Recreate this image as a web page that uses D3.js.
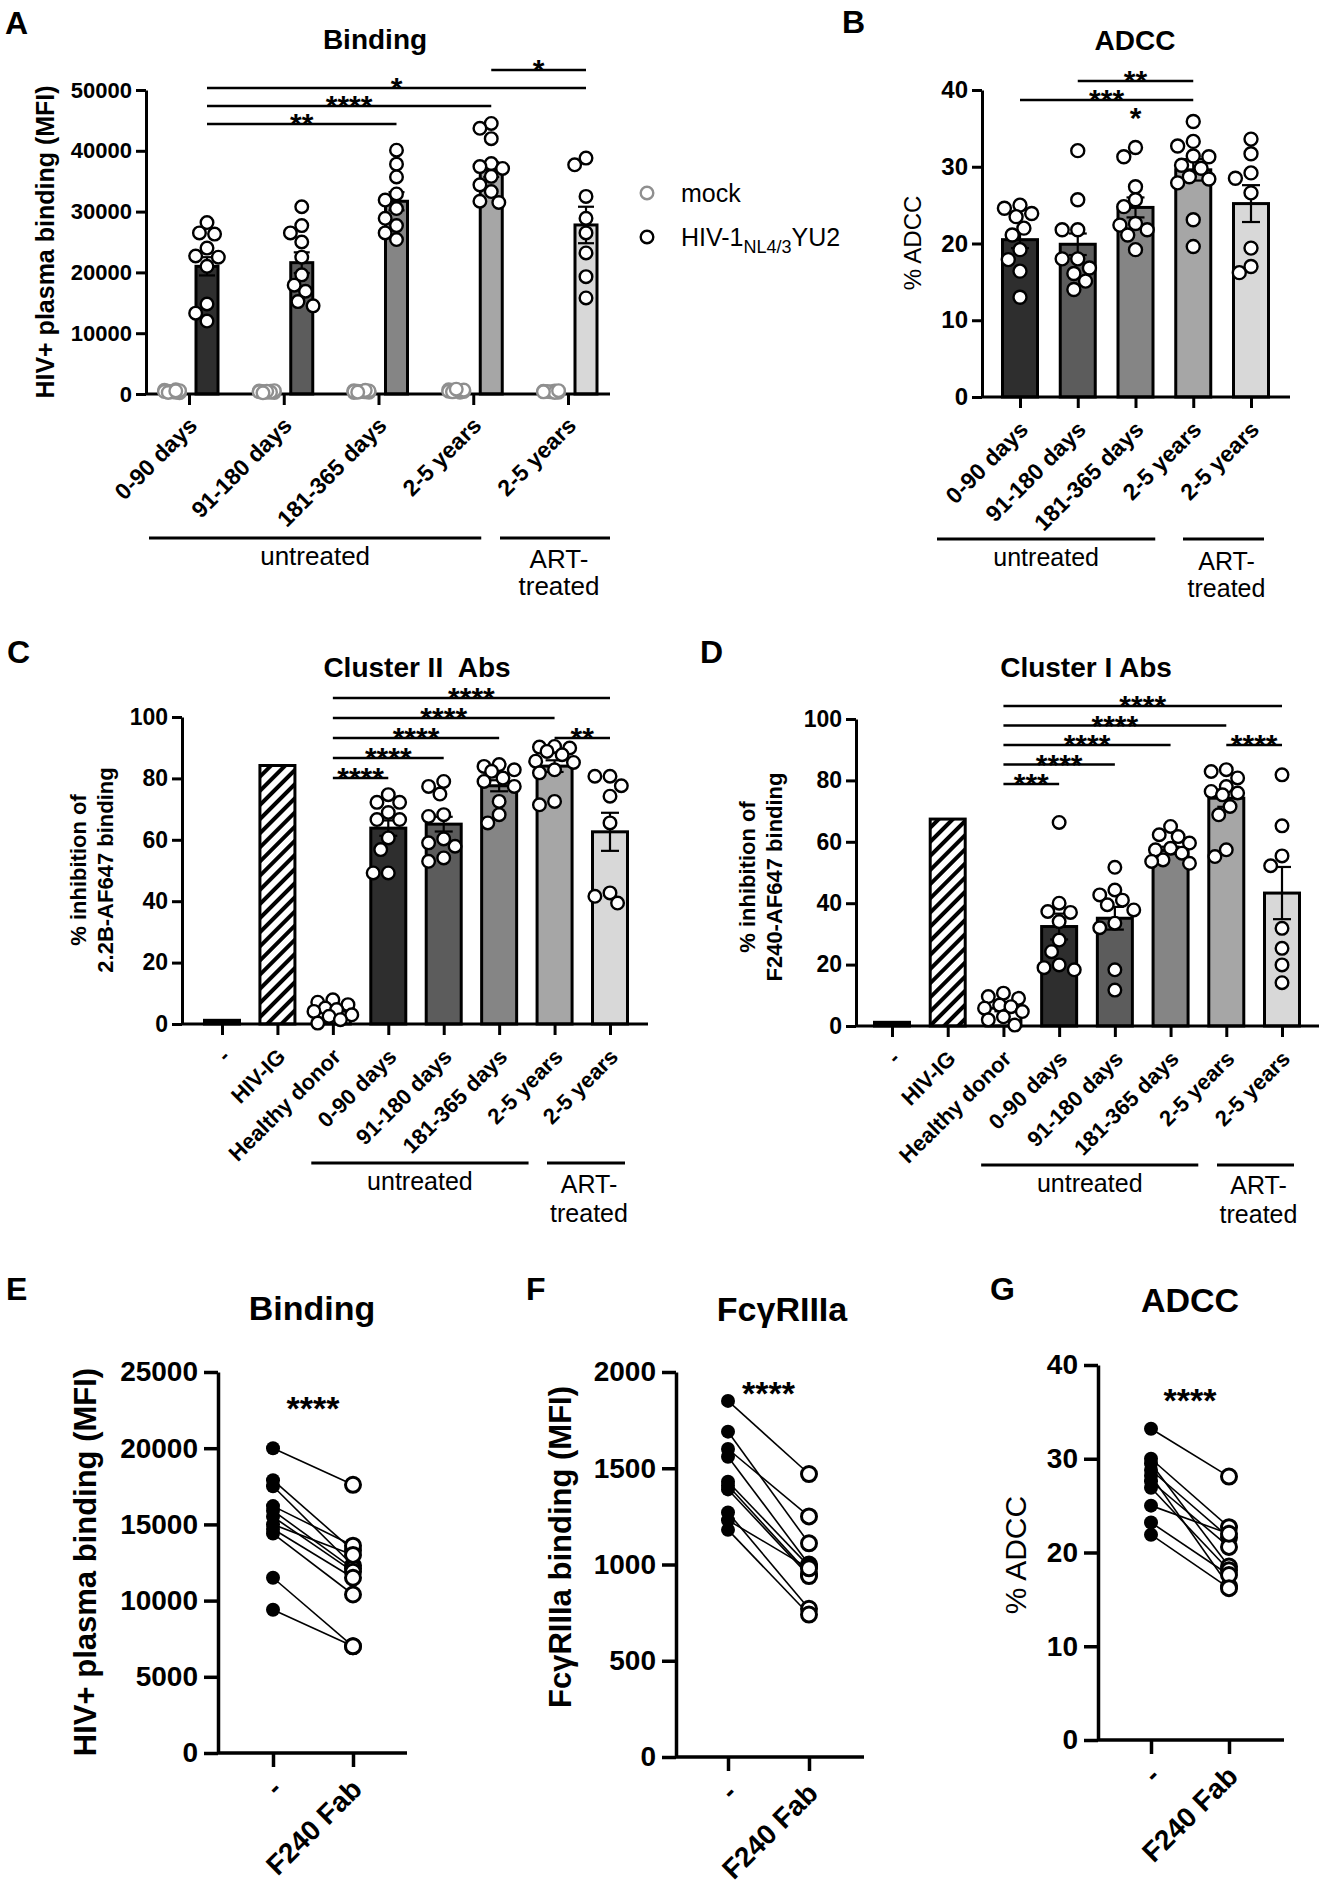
<!DOCTYPE html>
<html><head><meta charset="utf-8">
<script src="https://cdn.jsdelivr.net/npm/d3@7/dist/d3.min.js"></script>
<style>
html,body{margin:0;padding:0;background:#fff}
svg{display:block}
text{font-family:"Liberation Sans",Arial,Helvetica,sans-serif;fill:#000}
</style></head><body>
<svg id="fig" width="1320" height="1888" xmlns="http://www.w3.org/2000/svg"></svg>
<script>
// ---------------- DATA ----------------
const catsAB = ["0-90 days","91-180 days","181-365 days","2-5 years","2-5 years"];
const catsCD = ["-","HIV-IG","Healthy donor","0-90 days","91-180 days","181-365 days","2-5 years","2-5 years"];
const catsPair = ["-","F240 Fab"];
const groupNames = ["untreated","ART-","treated"];
const legendNames = ["mock","HIV-1","NL4/3","YU2"];
const titles = ["Binding","ADCC","Cluster II\u00a0 Abs","Cluster I Abs","Binding","Fc\u03b3RIIIa","ADCC"];
const letters = ["A","B","C","D","E","F","G"];

const ticksA = [0,10000,20000,30000,40000,50000];
const ticksB = [0,10,20,30,40];
const ticksCD = [0,20,40,60,80,100];
const ticksE = [0,5000,10000,15000,20000,25000];
const ticksF = [0,500,1000,1500,2000];
const ticksG = [0,10,20,30,40];

// Panel A
const aMock = [
  [350,600,200,450,700,300,550,400,250,500],
  [300,500,250,450,400,350,550,300,450,200],
  [400,550,300,450,350,500,250,400,600,300],
  [500,700,400,600,300,550,450,650,350,800],
  [350,450,300,500,400,250,550,350]
];
const aHiv = [
  [28200,26500,26300,24000,22700,22500,21000,14800,13300,12000],
  [30800,27700,26500,25000,22500,19600,17900,16900,15200,14500],
  [40100,37800,35700,32900,31900,30500,28900,27700,26500,25400],
  [44500,43700,42000,37900,37400,37100,35800,34400,33300,31700,31500],
  [38800,37700,32500,28900,26500,23200,19300,15800]
];
const aMean = [21000,21600,31700,36900,27800];
const aSem = [1500,1700,1500,1200,3000];
const aSig = [[0,2,"**",0],[0,3,"****",1],[0,4,"*",2],[3,4,"*",3]];

// Panel B
const bVals = [
  [25.0,24.6,23.9,23.5,22.0,21.1,19.2,17.9,16.4,13.0],
  [32.1,25.7,21.8,21.8,18.0,18.0,16.8,16.1,15.1,14.0],
  [32.5,31.3,27.4,25.7,24.8,22.6,22.4,21.8,21.1,19.2],
  [35.9,33.3,32.7,31.4,31.3,30.2,29.8,28.7,28.4,27.9,23.1,19.6],
  [33.6,31.7,29.2,28.5,26.6,19.4,17.0,16.2]
];
const bMean = [20.5,19.9,24.7,29.6,25.2];
const bSem = [1.1,1.4,1.3,1.4,2.4];
const bSig = [[0,3,"***",0],[1,3,"**",1],[0,4,"*",0,"below"]];

// Panel C
const cVals = [
  [],[],
  [7.9,7.1,6.3,5.2,4.7,4.1,3.0,2.5,1.4,0.3],
  [74.7,72.2,72.2,68.9,66.6,66.6,60.6,56.8,49.2,49.2],
  [79.0,77.4,74.9,68.2,67.6,60.3,59.0,57.9,54.1,53.0],
  [84.5,83.9,82.8,82.3,80.1,79.0,77.4,72.5,68.2,65.5],
  [90.4,90.2,89.9,88.8,87.7,85.6,85.2,82.8,81.8,72.5,71.4],
  [80.7,80.7,77.6,74.2,65.5,42.7,41.6,39.4]
];
const cMean = [1.2,84.2,4.2,63.8,65.1,77.6,84.0,62.6];
const cSem = [0,0,0.8,2.5,2.4,1.8,1.9,6.2];
const cSig = [[2,3,"****",0],[2,4,"****",1],[2,5,"****",2],[6,7,"**",2],[2,6,"****",3],[2,7,"****",4]];

// Panel D
const dVals = [
  [],[],
  [10.7,9.6,9.0,6.8,6.3,5.8,4.7,3.0,2.0,0.3],
  [66.3,40.0,37.3,37.0,34.0,28.0,24.2,19.9,19.0,18.3],
  [51.7,44.3,42.7,41.0,39.5,37.8,33.5,32.0,18.3,11.7],
  [65.0,62.3,61.7,59.6,57.9,57.4,56.3,54.1,53.6,53.0],
  [83.5,82.9,80.8,78.0,76.4,75.9,75.3,71.5,68.8,57.4,55.2],
  [81.8,65.2,55.4,52.2,31.8,25.3,19.9,14.1]
];
const dMean = [1.2,67.4,5.8,32.4,35.1,57.2,74.2,43.3];
const dSem = [0,0,1.0,4.2,3.7,1.2,2.8,8.5];
const dSig = [[2,3,"***",0],[2,4,"****",1],[2,5,"****",2],[6,7,"****",2],[2,6,"****",3],[2,7,"****",4]];

// Panels E-G: [untreated "-", with F240 Fab]
const ePairs = [[20000,17600],[17900,13300],[17500,12300],[16200,13600],[15900,12100],[15500,11900],[15000,13000],[14700,11500],[14400,10400],[11500,7000],[9400,7000]];
const fPairs = [[1850,1470],[1690,1110],[1600,1250],[1560,1000],[1430,990],[1410,950],[1390,940],[1270,770],[1230,980],[1180,740]];
const gPairs = [[33.2,28.1],[30.0,22.7],[29.5,18.5],[28.8,21.6],[28.2,16.4],[27.6,20.6],[26.9,18.1],[25.0,22.0],[23.2,17.6],[21.9,16.2]];
const pairStars = ["****","****","****"];

// ---------------- DRAWING ----------------
const svg = d3.select("#fig");
const defs = svg.append("defs");
const pat = defs.append("pattern").attr("id","hatch").attr("patternUnits","userSpaceOnUse")
  .attr("width",10).attr("height",10).attr("patternTransform","rotate(45)");
pat.append("rect").attr("width",10).attr("height",10).attr("fill","#fff");
pat.append("line").attr("x1",3).attr("y1",-1).attr("x2",3).attr("y2",11).attr("stroke","#000").attr("stroke-width",4);

const GREYS5 = ["#2e2e2e","#5c5c5c","#858585","#a6a6a6","#d8d8d8"];
const FILLS8 = ["#000","url(#hatch)","#fff"].concat(GREYS5);

function styleAxis(ax, fs, sw) {
  ax.attr("font-family", null).attr("font-size", null);
  ax.selectAll(".domain, .tick line").attr("stroke","#000").attr("stroke-width",sw);
  ax.selectAll(".tick text").attr("fill","#000").attr("font-size",fs).attr("font-weight","bold");
}

function addText(x, y, s, o) {
  o = o || {};
  const t = svg.append("text").attr("x",x).attr("y",y).text(s)
    .attr("font-size", o.size || 20).attr("font-weight", o.weight || "normal")
    .attr("text-anchor", o.anchor || "start");
  if (o.rotate) t.attr("transform", `rotate(${o.rotate},${x},${y})`);
  return t;
}

function swarm(vals, y, r, maxOff) {
  const placed = [];
  const out = new Array(vals.length);
  const cands = [0];
  const step = r * 0.6;
  for (let k = 1; k * step <= maxOff + 0.01; k++) cands.push(-k * step, k * step);
  vals.forEach((v, i) => {
    const py = y(v);
    let best = 0, bestD = -1;
    for (const c of cands) {
      let md = Infinity;
      for (const p of placed) md = Math.min(md, Math.hypot(p[0] - c, p[1] - py));
      if (md >= 2 * r) { best = c; bestD = md; break; }
      if (md > bestD) { bestD = md; best = c; }
    }
    placed.push([best, py]);
    out[i] = best;
  });
  return out;
}

function barPanel(o) {
  const g = svg.append("g");
  const n = o.cats.length;
  const y = d3.scaleLinear().domain([0, o.max]).range([o.y0, o.yTop]);
  const x = d3.scalePoint().domain(d3.range(n)).range([o.tx0, o.tx1]);
  const bx = i => x(i) + o.shift;
  const bars = o.means.map((m, i) => ({ m, i, s: o.sems[i], f: o.fills[i] }));

  g.selectAll("rect.bar").data(bars).join("rect").attr("class","bar")
    .attr("x", d => bx(d.i) - o.bw / 2).attr("width", o.bw)
    .attr("y", d => y(d.m)).attr("height", d => y(0) - y(d.m))
    .attr("fill", d => d.f).attr("stroke","#000").attr("stroke-width",3);

  const eb = g.selectAll("g.eb").data(bars.filter(d => d.s > 0)).join("g").attr("class","eb")
    .attr("stroke","#000").attr("stroke-width",2.2);
  eb.append("line").attr("x1", d => bx(d.i)).attr("x2", d => bx(d.i))
    .attr("y1", d => y(d.m - d.s)).attr("y2", d => y(d.m + d.s));
  eb.append("line").attr("x1", d => bx(d.i) - o.cap).attr("x2", d => bx(d.i) + o.cap)
    .attr("y1", d => y(d.m + d.s)).attr("y2", d => y(d.m + d.s));
  eb.append("line").attr("x1", d => bx(d.i) - o.cap).attr("x2", d => bx(d.i) + o.cap)
    .attr("y1", d => y(d.m - d.s)).attr("y2", d => y(d.m - d.s));

  const ya = g.append("g").attr("transform", `translate(${o.x0},0)`)
    .call(d3.axisLeft(y).tickValues(o.ticks).tickSize(10).tickSizeOuter(0).tickPadding(4).tickFormat(d3.format("d")));
  styleAxis(ya, o.tickFs, 3);

  const xa = g.append("g").attr("transform", `translate(0,${o.y0})`)
    .call(d3.axisBottom(x).tickSize(11).tickSizeOuter(0).tickFormat(i => o.cats[i]));
  xa.select(".domain").attr("d", `M${o.x0},0H${o.x1}`);
  styleAxis(xa, o.labFs, 3);
  xa.selectAll(".tick text").attr("x",0).attr("y",0).attr("dy",null).attr("text-anchor","end")
    .attr("transform", `translate(${o.lx},${o.ly}) rotate(-45)`);

  if (o.extra) {
    o.extra.vals.forEach((arr, i) => {
      const off = swarm(arr, y, o.r, 11);
      g.append("g").selectAll("circle").data(arr).join("circle")
        .attr("cx", (d, k) => x(i) + o.extra.shift + off[k]).attr("cy", d => y(d)).attr("r", o.r)
        .attr("fill","#fff").attr("stroke", o.extra.color).attr("stroke-width",2.4);
    });
  }
  o.vals.forEach((arr, i) => {
    const off = swarm(arr, y, o.r, o.bw / 2 + 3);
    g.append("g").selectAll("circle").data(arr).join("circle")
      .attr("cx", (d, k) => bx(i) + off[k]).attr("cy", d => y(d)).attr("r", o.r)
      .attr("fill","#fff").attr("stroke","#000").attr("stroke-width",2.4);
  });

  o.sig.forEach(([a, b, lab, lev, flag]) => {
    const ly = o.sigBase - lev * o.sigGap;
    if (flag !== "below")
      g.append("line").attr("x1", bx(a)).attr("x2", bx(b)).attr("y1", ly).attr("y2", ly)
        .attr("stroke","#000").attr("stroke-width",2.6);
    g.append("text").attr("x", (bx(a) + bx(b)) / 2).attr("y", flag === "below" ? ly + 28 : ly + 10)
      .attr("text-anchor","middle").attr("font-size", o.starFs).attr("font-weight","bold").text(lab);
  });

  o.groups.forEach(gr => {
    const xl = x(gr.from) + gr.padL, xr = x(gr.to) + gr.padR;
    g.append("line").attr("x1", xl).attr("x2", xr).attr("y1", gr.y).attr("y2", gr.y)
      .attr("stroke","#000").attr("stroke-width",3);
    gr.lines.forEach((s, k) => {
      g.append("text").attr("x", (xl + xr) / 2 + (gr.dx || 0)).attr("y", gr.y + gr.ty[k])
        .attr("text-anchor","middle").attr("font-size", o.groupFs).text(s);
    });
  });
  return { x, y };
}

function pairPanel(o) {
  const g = svg.append("g");
  const y = d3.scaleLinear().domain([0, o.max]).range([o.y0, o.yTop]);
  const x = d3.scalePoint().domain([0, 1]).range([o.tx0, o.tx1]);
  const ya = g.append("g").attr("transform", `translate(${o.x0},0)`)
    .call(d3.axisLeft(y).tickValues(o.ticks).tickSize(14).tickSizeOuter(0).tickPadding(6).tickFormat(d3.format("d")));
  styleAxis(ya, 28, 3.5);
  const xa = g.append("g").attr("transform", `translate(0,${o.y0})`)
    .call(d3.axisBottom(x).tickSize(14).tickSizeOuter(0).tickFormat(i => o.cats[i]));
  xa.select(".domain").attr("d", `M${o.x0},0H${o.x1}`);
  styleAxis(xa, 28, 3.5);
  xa.selectAll(".tick text").attr("x",0).attr("y",0).attr("dy",null).attr("text-anchor","end")
    .attr("transform", `translate(${o.lx},${o.ly}) rotate(-45)`);

  g.selectAll("line.pair").data(o.pairs).join("line").attr("class","pair")
    .attr("x1", x(0)).attr("x2", x(1)).attr("y1", d => y(d[0])).attr("y2", d => y(d[1]))
    .attr("stroke","#000").attr("stroke-width",1.6);
  g.selectAll("circle.pre").data(o.pairs).join("circle").attr("class","pre")
    .attr("cx", x(0)).attr("cy", d => y(d[0])).attr("r", 7).attr("fill","#000");
  g.selectAll("circle.post").data(o.pairs).join("circle").attr("class","post")
    .attr("cx", x(1)).attr("cy", d => y(d[1])).attr("r", 7.5)
    .attr("fill","#fff").attr("stroke","#000").attr("stroke-width",3);
  g.append("text").attr("x", (x(0) + x(1)) / 2).attr("y", o.starY).attr("text-anchor","middle")
    .attr("font-size", 34).attr("font-weight","bold").text(o.star);
}

// ---------- Panel A ----------
barPanel({
  cats: catsAB, means: aMean, sems: aSem, vals: aHiv, fills: GREYS5,
  extra: { vals: aMock, shift: -17, color: "#8f8f8f" },
  max: 50000, ticks: ticksA, x0: 146, x1: 610, y0: 394, yTop: 90,
  tx0: 189, tx1: 568, shift: 18, bw: 22, cap: 8, r: 6.3,
  tickFs: 22, labFs: 23, lx: 9, ly: 33, starFs: 30, groupFs: 26,
  sig: aSig, sigBase: 124, sigGap: 18,
  groups: [
    { from: 0, to: 3, padL: -40, padR: 8, y: 538, lines: [groupNames[0]], ty: [27] },
    { from: 4, to: 4, padL: -68, padR: 42, y: 538, lines: [groupNames[1], groupNames[2]], ty: [30, 57], dx: 4 }
  ]
});
// legend
svg.append("circle").attr("cx",647).attr("cy",193).attr("r",6.3).attr("fill","#fff").attr("stroke","#8f8f8f").attr("stroke-width",2.4);
svg.append("circle").attr("cx",647).attr("cy",237).attr("r",6.3).attr("fill","#fff").attr("stroke","#000").attr("stroke-width",2.4);
addText(681, 202, legendNames[0], { size: 25 });
const lg = addText(681, 246, legendNames[1], { size: 25 });
lg.append("tspan").attr("font-size",18).attr("dy",7).text(legendNames[2]);
lg.append("tspan").attr("font-size",25).attr("dy",-7).text(legendNames[3]);

// ---------- Panel B ----------
barPanel({
  cats: catsAB, means: bMean, sems: bSem, vals: bVals, fills: GREYS5,
  max: 40, ticks: ticksB, x0: 982, x1: 1290, y0: 397, yTop: 90,
  tx0: 1020, tx1: 1251, shift: 0, bw: 35, cap: 9, r: 6.5,
  tickFs: 24, labFs: 23, lx: 9, ly: 34, starFs: 30, groupFs: 25,
  sig: bSig, sigBase: 100, sigGap: 19,
  groups: [
    { from: 0, to: 3, padL: -83, padR: -38, y: 539, lines: [groupNames[0]], ty: [27] },
    { from: 4, to: 4, padL: -68, padR: 13, y: 539, lines: [groupNames[1], groupNames[2]], ty: [31, 58], dx: 3 }
  ]
});

// ---------- Panel C ----------
barPanel({
  cats: catsCD, means: cMean, sems: cSem, vals: cVals, fills: FILLS8,
  max: 100, ticks: ticksCD, x0: 182, x1: 648, y0: 1024, yTop: 717,
  tx0: 222, tx1: 610, shift: 0, bw: 35, cap: 9, r: 6.3,
  tickFs: 23, labFs: 22, lx: 9, ly: 34, starFs: 30, groupFs: 25,
  sig: cSig, sigBase: 778, sigGap: 20,
  groups: [
    { from: 3, to: 6, padL: -77, padR: -26, y: 1163, lines: [groupNames[0]], ty: [27] },
    { from: 7, to: 7, padL: -63, padR: 15, y: 1163, lines: [groupNames[1], groupNames[2]], ty: [30, 59], dx: 3 }
  ]
});

// ---------- Panel D ----------
barPanel({
  cats: catsCD, means: dMean, sems: dSem, vals: dVals, fills: FILLS8,
  max: 100, ticks: ticksCD, x0: 856, x1: 1319, y0: 1026, yTop: 719,
  tx0: 892, tx1: 1282, shift: 0, bw: 35, cap: 9, r: 6.3,
  tickFs: 23, labFs: 22, lx: 9, ly: 34, starFs: 30, groupFs: 25,
  sig: dSig, sigBase: 784, sigGap: 19.5,
  groups: [
    { from: 3, to: 6, padL: -78, padR: -28, y: 1165, lines: [groupNames[0]], ty: [27] },
    { from: 7, to: 7, padL: -65, padR: 12, y: 1165, lines: [groupNames[1], groupNames[2]], ty: [29, 58], dx: 3 }
  ]
});

// ---------- Panels E, F, G ----------
pairPanel({ cats: catsPair, pairs: ePairs, max: 25000, ticks: ticksE,
  x0: 218, x1: 407, y0: 1753, yTop: 1372, tx0: 273, tx1: 353, lx: 10, ly: 38, starY: 1420, star: pairStars[0] });
pairPanel({ cats: catsPair, pairs: fPairs, max: 2000, ticks: ticksF,
  x0: 676, x1: 864, y0: 1757, yTop: 1372, tx0: 728, tx1: 809, lx: 10, ly: 38, starY: 1405, star: pairStars[1] });
pairPanel({ cats: catsPair, pairs: gPairs, max: 40, ticks: ticksG,
  x0: 1098, x1: 1284, y0: 1740, yTop: 1365, tx0: 1151, tx1: 1229, lx: 10, ly: 38, starY: 1412, star: pairStars[2] });

// ---------- Titles, letters, axis titles ----------
addText(375, 49, titles[0], { size: 28, weight: "bold", anchor: "middle" });
addText(1135, 50, titles[1], { size: 28, weight: "bold", anchor: "middle" });
addText(417, 677, titles[2], { size: 28, weight: "bold", anchor: "middle" });
addText(1086, 677, titles[3], { size: 28, weight: "bold", anchor: "middle" });
addText(312, 1320, titles[4], { size: 34, weight: "bold", anchor: "middle" });
addText(782, 1321, titles[5], { size: 34, weight: "bold", anchor: "middle" });
addText(1190, 1312, titles[6], { size: 34, weight: "bold", anchor: "middle" });

addText(5, 34, letters[0], { size: 32, weight: "bold" });
addText(842, 33, letters[1], { size: 32, weight: "bold" });
addText(7, 663, letters[2], { size: 32, weight: "bold" });
addText(700, 663, letters[3], { size: 32, weight: "bold" });
addText(6, 1300, letters[4], { size: 32, weight: "bold" });
addText(526, 1300, letters[5], { size: 32, weight: "bold" });
addText(990, 1300, letters[6], { size: 32, weight: "bold" });

addText(54, 242, "HIV+ plasma binding (MFI)", { size: 25, weight: "bold", anchor: "middle", rotate: -90 });
addText(921, 243, "% ADCC", { size: 24, anchor: "middle", rotate: -90 });
addText(86, 870, "% inhibition of", { size: 22, weight: "bold", anchor: "middle", rotate: -90 });
addText(113, 870, "2.2B-AF647 binding", { size: 22, weight: "bold", anchor: "middle", rotate: -90 });
addText(755, 877, "% inhibition of", { size: 22, weight: "bold", anchor: "middle", rotate: -90 });
addText(782, 877, "F240-AF647 binding", { size: 22, weight: "bold", anchor: "middle", rotate: -90 });
addText(96, 1562, "HIV+ plasma binding (MFI)", { size: 31, weight: "bold", anchor: "middle", rotate: -90 });
addText(571, 1547, "Fc\u03b3RIIIa binding (MFI)", { size: 31, weight: "bold", anchor: "middle", rotate: -90 });
addText(1026, 1555, "% ADCC", { size: 30, anchor: "middle", rotate: -90 });
</script>
</body></html>
